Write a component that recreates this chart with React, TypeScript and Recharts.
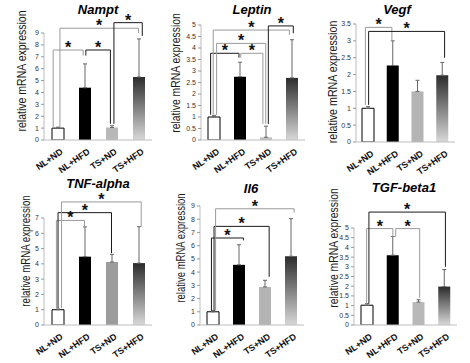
import { BarChart, Bar, XAxis, YAxis, ErrorBar, Cell, ReferenceLine } from 'recharts';

const groups = ['NL+ND', 'NL+HFD', 'TS+ND', 'TS+HFD'];

// bar heights and upper error (SD) per gene
const namptMean = [1.0, 4.4, 1.05, 5.3];
const namptErr = [0.08, 2.0, 0.15, 3.2];
const namptTicks = [0, 1, 2, 3, 4, 5, 6, 7, 8, 9];

const leptinMean = [1.0, 2.75, 0.12, 2.7];
const leptinErr = [0.07, 0.63, 0.48, 1.66];
const leptinTicks = [0, 0.5, 1, 1.5, 2, 2.5, 3, 3.5, 4, 4.5, 5];

const vegfMean = [1.0, 2.27, 1.5, 1.98];
const vegfErr = [0.05, 0.73, 0.33, 0.38];
const vegfTicks = [0, 0.5, 1, 1.5, 2, 2.5, 3, 3.5];

const tnfMean = [1.0, 4.47, 4.12, 4.05];
const tnfErr = [0.05, 1.95, 0.5, 2.38];
const tnfTicks = [0, 1, 2, 3, 4, 5, 6, 7];

const il6Mean = [1.0, 4.55, 2.88, 5.2];
const il6Err = [0.1, 1.52, 0.5, 2.84];
const il6Ticks = [0, 1, 2, 3, 4, 5, 6, 7, 8, 9];

const tgfMean = [1.02, 3.6, 1.18, 1.98];
const tgfErr = [0.08, 0.96, 0.12, 0.88];
const tgfTicks = [0, 0.5, 1, 1.5, 2, 2.5, 3, 3.5, 4, 4.5, 5];

// significance brackets: legs at group positions, bar level and where each leg stops (data units)
type Bracket = { from: number; to: number; level: number; fromEnd: number; toEnd: number; dark?: boolean };

const namptBrackets: Bracket[] = [
  { from: -0.16, to: 0.95, level: 7.57, fromEnd: 1.1, toEnd: 7.1 },
  { from: 1.05, to: 1.96, level: 7.57, fromEnd: 7.1, toEnd: 1.35, dark: true },
  { from: 0.09, to: 3.0, level: 9.4, fromEnd: 1.1, toEnd: 9.0 },
  { from: 2.09, to: 3.14, level: 9.87, fromEnd: 1.35, toEnd: 8.75, dark: true },
];
const leptinBrackets: Bracket[] = [
  { from: -0.13, to: 0.96, level: 3.77, fromEnd: 1.1, toEnd: 3.58, dark: true },
  { from: 1.03, to: 1.88, level: 3.77, fromEnd: 3.58, toEnd: 0.7 },
  { from: 0.1, to: 1.99, level: 4.2, fromEnd: 1.1, toEnd: 0.7 },
  { from: -0.03, to: 2.9, level: 4.78, fromEnd: 1.1, toEnd: 4.57 },
  { from: 2.09, to: 3.05, level: 4.96, fromEnd: 0.7, toEnd: 4.64, dark: true },
];
const vegfBrackets: Bracket[] = [
  { from: -0.12, to: 0.95, level: 3.4, fromEnd: 1.1, toEnd: 3.0 },
  { from: 0.01, to: 3.08, level: 3.28, fromEnd: 1.1, toEnd: 2.5, dark: true },
];
const tnfBrackets: Bracket[] = [
  { from: -0.04, to: 1.0, level: 6.84, fromEnd: 1.1, toEnd: 6.43 },
  { from: 0.02, to: 2.0, level: 7.35, fromEnd: 1.1, toEnd: 4.7, dark: true },
  { from: 0.15, to: 3.1, level: 8.05, fromEnd: 1.1, toEnd: 6.43 },
];
const il6Brackets: Bracket[] = [
  { from: -0.06, to: 1.17, level: 6.58, fromEnd: 1.1, toEnd: 6.4, dark: true },
  { from: 0.04, to: 2.16, level: 7.46, fromEnd: 1.1, toEnd: 3.64, dark: true },
  { from: 0.1, to: 3.12, level: 8.79, fromEnd: 1.1, toEnd: 8.49 },
];
const tgfBrackets: Bracket[] = [
  { from: -0.01, to: 1.01, level: 4.97, fromEnd: 1.1, toEnd: 4.54 },
  { from: 1.12, to: 2.05, level: 4.97, fromEnd: 4.54, toEnd: 1.4 },
  { from: 0.08, to: 3.05, level: 5.82, fromEnd: 1.1, toEnd: 3.0, dark: true },
];

const X_AXIS_H = 34;

function SlantTick(props: any) {
  const { x, y, payload } = props;
  const ax = x + 6;
  const ay = y + 5;
  return (
    <text
      x={ax}
      y={ay}
      transform={`rotate(-35 ${ax} ${ay})`}
      textAnchor="end"
      fontSize={9}
      fontWeight="bold"
      fill="#111"
    >
      {groups[payload.value]}
    </text>
  );
}

function starLabel(props: any) {
  const vb = props.viewBox;
  if (!vb) return null;
  return (
    <text x={vb.x + vb.width / 2} y={vb.y + 3} textAnchor="middle" fontSize={16} fontWeight="bold" fill="#111">
      *
    </text>
  );
}

type PanelProps = {
  id: string;
  title: string;
  mean: number[];
  err: number[];
  ticks: number[];
  brackets: Bracket[];
  lightFill: string;
  box: { left: number; top: number; width: number; height: number };
  plot: { left: number; right: number; top: number; bottom: number };
  titleAt: [number, number];
  labelAt: [number, number];
  labelSquash: number;
};

function Panel(p: PanelProps) {
  const data = p.mean.map((v, i) => ({ pos: i, value: v, err: [0, p.err[i]] }));
  const margin = {
    top: p.plot.top - p.box.top,
    right: p.box.left + p.box.width - p.plot.right,
    left: 0,
    bottom: p.box.top + p.box.height - p.plot.bottom - X_AXIS_H,
  };
  const fills = ['#ffffff', '#000000', p.lightFill, `url(#grad-${p.id})`];

  return (
    <div style={{ position: 'absolute', left: p.box.left, top: p.box.top, width: p.box.width, height: p.box.height }}>
      <BarChart width={p.box.width} height={p.box.height} data={data} margin={margin}>
        <defs>
          <linearGradient id={`grad-${p.id}`} x1="0" y1="0" x2="0" y2="1">
            <stop offset="0%" stopColor="#2c2c2c" />
            <stop offset="100%" stopColor="#d8d8d8" />
          </linearGradient>
        </defs>
        <XAxis
          type="number"
          dataKey="pos"
          domain={[-0.5, 3.5]}
          ticks={[0, 1, 2, 3]}
          interval={0}
          allowDataOverflow
          height={X_AXIS_H}
          axisLine={{ stroke: '#bdbdbd' }}
          tickLine={false}
          tick={<SlantTick />}
        />
        <YAxis
          width={p.plot.left - p.box.left}
          domain={[0, p.ticks[p.ticks.length - 1]]}
          ticks={p.ticks}
          interval={0}
          allowDataOverflow
          axisLine={{ stroke: '#bdbdbd' }}
          tickLine={{ stroke: '#999' }}
          tickSize={3}
          tick={{ fontSize: 7, fill: '#333' }}
        />
        <Bar dataKey="value" barSize={12} isAnimationActive={false}>
          {data.map((d, i) => (
            <Cell key={d.pos} fill={fills[i]} stroke={i === 0 ? '#000' : 'none'} strokeWidth={1} />
          ))}
          <ErrorBar dataKey="err" width={2} stroke="#666" strokeWidth={1} isAnimationActive={false} />
        </Bar>
        {p.brackets.flatMap((b, i) => {
          const color = b.dark ? '#1a1a1a' : '#9a9a9a';
          return [
            <ReferenceLine
              key={`h${i}`}
              segment={[{ x: b.from, y: b.level }, { x: b.to, y: b.level }]}
              stroke={color}
              strokeWidth={1}
              ifOverflow="visible"
              label={starLabel}
            />,
            <ReferenceLine
              key={`l${i}`}
              segment={[{ x: b.from, y: b.level }, { x: b.from, y: b.fromEnd }]}
              stroke={color}
              strokeWidth={1}
              ifOverflow="visible"
            />,
            <ReferenceLine
              key={`r${i}`}
              segment={[{ x: b.to, y: b.level }, { x: b.to, y: b.toEnd }]}
              stroke={color}
              strokeWidth={1}
              ifOverflow="visible"
            />,
          ];
        })}
      </BarChart>
      <div
        style={{
          position: 'absolute',
          left: p.titleAt[0] - p.box.left,
          top: p.titleAt[1] - 11 - p.box.top,
          transform: 'translateX(-50%)',
          fontSize: 13,
          lineHeight: '13px',
          fontWeight: 'bold',
          fontStyle: 'italic',
          whiteSpace: 'nowrap',
          color: '#000',
        }}
      >
        {p.title}
      </div>
      <div
        style={{
          position: 'absolute',
          left: p.labelAt[0] - p.box.left,
          top: p.labelAt[1] - p.box.top,
          transform: `translate(-50%, -50%) rotate(-90deg) scaleX(${p.labelSquash})`,
          fontSize: 13,
          lineHeight: 1,
          whiteSpace: 'nowrap',
          color: '#1a1a1a',
        }}
      >
        relative mRNA expression
      </div>
    </div>
  );
}

export default function App() {
  return (
    <div
      style={{
        position: 'absolute',
        left: 0,
        top: 0,
        width: 470,
        height: 363,
        background: '#fff',
        overflow: 'hidden',
        fontFamily: '"Liberation Sans", Arial, sans-serif',
      }}
    >
      <Panel
        id="nampt" title="Nampt" mean={namptMean} err={namptErr} ticks={namptTicks} brackets={namptBrackets}
        lightFill="#b8b8b8"
        box={{ left: 0, top: 0, width: 155, height: 182 }}
        plot={{ left: 44, right: 152, top: 33, bottom: 140 }}
        titleAt={[98, 14]} labelAt={[21, 71]} labelSquash={0.81}
      />
      <Panel
        id="leptin" title="Leptin" mean={leptinMean} err={leptinErr} ticks={leptinTicks} brackets={leptinBrackets}
        lightFill="#c2c2c2"
        box={{ left: 155, top: 0, width: 155, height: 182 }}
        plot={{ left: 201, right: 305, top: 25, bottom: 140 }}
        titleAt={[252, 14]} labelAt={[175, 73]} labelSquash={0.8}
      />
      <Panel
        id="vegf" title="Vegf" mean={vegfMean} err={vegfErr} ticks={vegfTicks} brackets={vegfBrackets}
        lightFill="#b4b4b4"
        box={{ left: 310, top: 0, width: 160, height: 182 }}
        plot={{ left: 356, right: 455, top: 24, bottom: 142 }}
        titleAt={[397, 14]} labelAt={[332, 82]} labelSquash={0.82}
      />
      <Panel
        id="tnf" title="TNF-alpha" mean={tnfMean} err={tnfErr} ticks={tnfTicks} brackets={tnfBrackets}
        lightFill="#9c9c9c"
        box={{ left: 0, top: 178, width: 155, height: 185 }}
        plot={{ left: 44, right: 152, top: 218, bottom: 325 }}
        titleAt={[98, 188]} labelAt={[25, 251]} labelSquash={0.745}
      />
      <Panel
        id="il6" title="Il6" mean={il6Mean} err={il6Err} ticks={il6Ticks} brackets={il6Brackets}
        lightFill="#b4b4b4"
        box={{ left: 155, top: 178, width: 155, height: 185 }}
        plot={{ left: 200, right: 304, top: 206, bottom: 325 }}
        titleAt={[251, 193]} labelAt={[180, 248]} labelSquash={0.73}
      />
      <Panel
        id="tgf" title="TGF-beta1" mean={tgfMean} err={tgfErr} ticks={tgfTicks} brackets={tgfBrackets}
        lightFill="#b8b8b8"
        box={{ left: 310, top: 178, width: 160, height: 185 }}
        plot={{ left: 354, right: 457, top: 228, bottom: 325 }}
        titleAt={[404, 192]} labelAt={[333, 248]} labelSquash={0.8}
      />
    </div>
  );
}
